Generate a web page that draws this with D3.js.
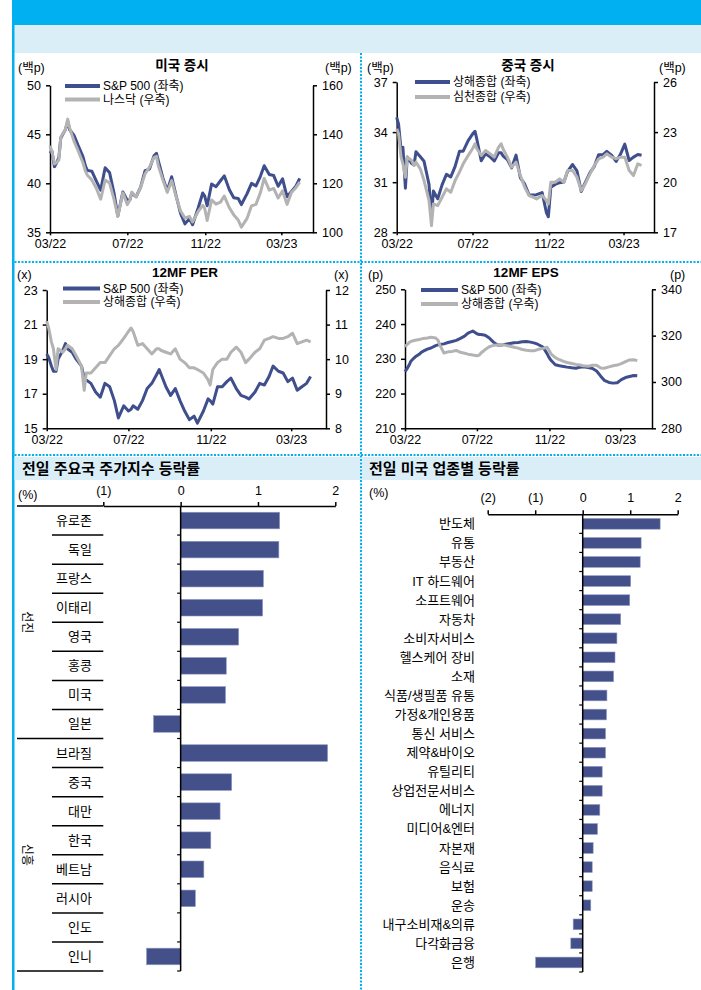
<!DOCTYPE html>
<html lang="ko">
<head>
<meta charset="utf-8">
<title>증시 일일 차트</title>
<script src="https://d3js.org/d3.v7.min.js"></script>
<style>
  body { margin: 0; background: #fff; }
  svg { display: block; font-family: "Liberation Sans", "Noto Sans CJK KR", sans-serif; }
  .axis path, .axis line { stroke: #000; stroke-width: 1.5; }
  .axis text { fill: #000; font-size: 12.5px; font-family: "Liberation Sans", "Noto Sans CJK KR", sans-serif; }
</style>
</head>
<body>
<div id="chart"></div>
<script>
// ---- line chart data (weekly points) ----
var dates = ["2022-03-01","2022-03-04","2022-03-08","2022-03-11","2022-03-15","2022-03-18","2022-03-25","2022-03-29","2022-04-01","2022-04-08",
  "2022-04-14","2022-04-22","2022-04-26","2022-04-29","2022-05-06","2022-05-13","2022-05-20","2022-05-27","2022-06-03","2022-06-10",
  "2022-06-16","2022-06-24","2022-07-01","2022-07-05","2022-07-08","2022-07-15","2022-07-22","2022-07-29","2022-08-05","2022-08-12",
  "2022-08-16","2022-08-19","2022-08-26","2022-09-02","2022-09-09","2022-09-16","2022-09-23","2022-09-30","2022-10-07","2022-10-12",
  "2022-10-21","2022-10-28","2022-10-31","2022-11-04","2022-11-11","2022-11-18","2022-11-25","2022-12-01","2022-12-09","2022-12-16",
  "2022-12-23","2022-12-28","2023-01-06","2023-01-13","2023-01-20","2023-01-27","2023-02-02","2023-02-10","2023-02-17","2023-02-24",
  "2023-03-03","2023-03-10","2023-03-17","2023-03-24","2023-03-30"];
var xTicks = ["2022-03-01","2022-07-01","2022-11-01","2023-03-01"];

// 미국 증시 (백p)
var spx = [43.06,43.29,41.70,42.04,42.62,44.63,45.43,46.31,45.46,44.88,
  43.92,42.72,41.75,41.32,41.23,40.24,39.30,41.58,41.09,39.01,
  36.67,39.12,38.25,38.31,38.99,38.63,39.62,41.30,41.45,42.80,
  43.05,42.28,40.58,39.24,40.67,38.73,36.93,35.86,36.40,35.77,
  37.53,39.01,38.72,37.71,39.93,39.65,40.26,40.76,39.34,38.52,
  38.45,37.83,38.95,39.99,39.73,40.71,41.79,40.90,40.79,39.70,
  40.45,38.62,39.17,39.71,40.50];
var nasdaq = [135.3,133.1,127.9,128.4,129.5,138.9,141.7,146.2,142.6,137.1,
  133.5,128.4,124.9,123.3,121.4,118.0,113.5,121.3,120.1,113.4,
  106.5,116.1,111.3,113.2,116.4,114.5,118.3,123.9,126.6,130.5,
  131.0,127.1,121.4,116.3,121.1,114.5,108.7,105.8,106.5,104.2,
  108.6,111.0,109.9,104.8,113.2,111.5,112.3,114.8,110.0,107.1,
  105.0,102.1,105.7,110.8,111.4,116.2,122.0,117.2,117.9,114.0,
  116.9,111.4,116.3,118.2,120.5];

// 중국 증시 (백p)
var shanghai = [34.88,34.47,32.93,33.09,30.64,32.51,32.12,32.04,32.82,32.52,
  32.25,30.87,28.86,30.47,30.01,30.84,31.47,31.31,31.95,32.85,
  32.86,33.49,33.88,34.05,33.56,32.28,32.70,32.53,32.27,32.77,
  32.77,32.58,32.36,31.86,32.62,31.26,30.88,30.24,30.24,30.25,
  30.38,29.16,28.93,30.70,30.87,30.97,31.01,31.65,32.06,31.68,
  30.45,30.87,31.57,31.95,32.65,32.65,32.85,32.60,32.24,32.67,
  33.28,32.30,32.50,32.66,32.61];
var shenzhen = [23.2,22.9,21.5,21.1,20.3,21.5,21.3,21.0,21.2,20.8,
  20.1,18.9,17.4,18.7,18.6,19.1,19.6,19.4,20.1,20.6,
  21.1,21.6,22.0,22.3,22.0,21.6,21.9,21.7,21.5,22.1,
  22.3,22.0,21.5,20.9,21.2,20.4,19.7,19.2,19.1,19.0,
  19.2,18.9,18.7,20.0,20.0,20.2,20.0,20.7,20.7,20.3,
  19.5,19.8,20.5,21.0,21.4,21.5,21.7,21.5,21.4,21.5,
  21.5,20.7,20.4,21.1,21.0];

// 12MF PER (x)
var perSpx = [19.3,19.1,18.6,18.3,18.3,19.0,19.5,19.9,19.6,19.4,
  19.0,18.6,17.9,17.8,17.6,17.1,16.8,17.6,17.4,16.6,
  15.6,16.3,16.0,16.1,16.3,16.1,16.6,17.3,17.6,18.1,
  18.4,18.1,17.4,16.9,17.3,16.6,16.0,15.5,15.7,15.3,
  16.0,16.7,16.6,16.4,17.4,17.4,17.7,17.9,17.3,16.9,
  16.8,16.7,17.1,17.6,17.5,18.0,18.6,18.3,18.2,17.7,
  17.9,17.2,17.4,17.6,18.0];
var perSh = [11.1,10.9,10.5,10.3,9.7,10.3,10.2,10.3,10.4,10.3,
  10.1,9.8,9.1,9.6,9.6,9.75,9.9,9.9,10.1,10.3,
  10.4,10.6,10.8,10.9,10.8,10.4,10.45,10.3,10.15,10.3,
  10.3,10.25,10.2,10.15,10.3,10.0,9.9,9.75,9.75,9.7,
  9.6,9.4,9.25,9.7,9.9,10.0,10.0,10.2,10.35,10.2,
  9.9,10.0,10.2,10.3,10.55,10.6,10.65,10.6,10.6,10.65,
  10.75,10.45,10.5,10.55,10.5];

// 12MF EPS (p)
var epsSpx = [226.3,227.0,228.2,229.3,230.0,230.5,231.3,231.9,232.2,232.8,
  233.1,233.8,234.0,234.1,234.3,234.7,235.0,235.3,235.9,236.5,
  237.4,238.0,237.2,237.0,237.0,236.8,236.0,234.8,234.0,234.0,
  234.1,234.2,234.4,234.6,234.7,234.9,235.0,234.8,234.5,234.2,
  233.4,231.5,230.5,229.5,228.3,228.0,227.8,227.6,227.4,227.3,
  227.6,227.7,227.5,227.2,226.5,225.0,223.8,223.2,223.0,223.1,
  224.0,224.6,224.9,225.2,225.1];
var epsSh = [315.3,316.0,317.0,317.5,317.8,318.0,318.3,318.6,318.8,319.0,
  319.3,319.0,318.0,316.0,312.5,313.0,313.2,313.6,312.8,312.4,
  312.0,311.6,311.3,311.6,312.5,314.0,315.2,315.8,316.0,316.2,
  316.0,315.8,315.4,315.0,314.6,314.0,313.7,313.5,313.5,314.0,
  314.5,315.0,313.8,312.0,310.5,309.6,308.9,308.4,308.0,307.6,
  307.3,307.0,306.8,307.2,307.2,306.0,305.9,306.5,307.0,307.3,
  307.9,308.8,309.5,309.6,309.2];

// ---- bar chart data ----
var countryCats = ["유로존","독일","프랑스","이태리","영국","홍콩","미국","일본",
  "브라질","중국","대만","한국","베트남","러시아","인도","인니"];
var countryVals = [1.28,1.27,1.07,1.06,0.75,0.59,0.58,-0.35,
  1.90,0.66,0.51,0.39,0.30,0.19,0.00,-0.44];
var countryGroups = ["선진","신흥"];

var sectorCats = ["반도체","유통","부동산","IT 하드웨어","소프트웨어","자동차","소비자서비스","헬스케어 장비",
  "소재","식품/생필품 유통","가정&개인용품","통신 서비스","제약&바이오","유틸리티","상업전문서비스","에너지",
  "미디어&엔터","자본재","음식료","보험","운송","내구소비재&의류","다각화금융","은행"];
var sectorVals = [1.63,1.23,1.21,1.01,0.99,0.80,0.72,0.68,
  0.65,0.51,0.50,0.48,0.48,0.41,0.41,0.36,
  0.31,0.22,0.20,0.20,0.17,-0.20,-0.25,-0.99];

var BLUE = "#3F4E8C", GRAY = "#B3B3B3", CYAN = "#00B0F0", BAND = "#DAEEF8", BAR = "#43508A";
var parse = d3.timeParse("%Y-%m-%d");
var dt = dates.map(parse);

var svg = d3.select("#chart").append("svg").attr("width", 701).attr("height", 990);

// ---- page frame ----
svg.append("rect").attr("x", 12).attr("y", 0).attr("width", 689).attr("height", 25).attr("fill", CYAN);
svg.append("rect").attr("x", 14).attr("y", 25).attr("width", 687).attr("height", 28).attr("fill", BAND);
svg.append("rect").attr("x", 12).attr("y", 0).attr("width", 2.5).attr("height", 990).attr("fill", CYAN);

function dotted(x1, y1, x2, y2) {
  svg.append("line").attr("x1", x1).attr("y1", y1).attr("x2", x2).attr("y2", y2)
    .attr("stroke", CYAN).attr("stroke-width", 2).attr("stroke-dasharray", "2,1.5");
}
dotted(361, 53, 361, 990);
dotted(14.5, 262, 701, 262);
dotted(14.5, 455, 701, 455);

function txt(x, y, s, size, opts) {
  opts = opts || {};
  return svg.append("text").attr("x", x).attr("y", y).text(s)
    .attr("font-size", size + "px")
    .attr("font-weight", opts.bold ? "bold" : null)
    .attr("text-anchor", opts.anchor || "start")
    .attr("dominant-baseline", "central")
    .attr("fill", "#000");
}

// ---- dual axis line charts ----
function dualChart(c) {
  var g = svg.append("g");
  var x = d3.scaleTime().domain([parse("2022-03-01"), parse(c.end)]).range([c.x0, c.x1]);
  var yL = d3.scaleLinear().domain(c.domL).range([c.y1, c.y0]);
  var yR = d3.scaleLinear().domain(c.domR).range([c.y1, c.y0]);
  var num = d3.format("~g");

  g.append("g").attr("class", "axis").attr("transform", "translate(" + c.x0 + ",0)")
    .call(d3.axisLeft(yL).tickValues(c.ticksL).tickFormat(num).tickSize(4).tickPadding(5).tickSizeOuter(0));
  g.append("g").attr("class", "axis").attr("transform", "translate(" + c.x1 + ",0)")
    .call(d3.axisRight(yR).tickValues(c.ticksR).tickFormat(num).tickSize(4).tickPadding(5).tickSizeOuter(0));
  g.append("g").attr("class", "axis").attr("transform", "translate(0," + c.y1 + ")")
    .call(d3.axisBottom(x).tickValues(xTicks.map(parse)).tickFormat(d3.timeFormat("%m/%y"))
      .tickSize(3).tickPadding(4).tickSizeOuter(0));

  var lineL = d3.line().x(function(d, i) { return x(dt[i]); }).y(function(d) { return yL(d); });
  var lineR = d3.line().x(function(d, i) { return x(dt[i]); }).y(function(d) { return yR(d); });
  g.append("path").attr("d", lineL(c.s1)).attr("fill", "none").attr("stroke", BLUE)
    .attr("stroke-width", 3).attr("stroke-linejoin", "round");
  g.append("path").attr("d", lineR(c.s2)).attr("fill", "none").attr("stroke", GRAY)
    .attr("stroke-width", 3).attr("stroke-linejoin", "round");

  // legend
  [[BLUE, c.leg[0], c.legY[0]], [GRAY, c.leg[1], c.legY[1]]].forEach(function(l) {
    g.append("line").attr("x1", c.legX[0]).attr("x2", c.legX[1]).attr("y1", l[2]).attr("y2", l[2])
      .attr("stroke", l[0]).attr("stroke-width", 4);
    txt(c.legX[1] + 3, l[2], l[1], 12);
  });

  txt(c.titleX, c.titleY, c.title, 13.5, {bold: true, anchor: "middle"});
  txt(c.unitLX, c.titleY + 3, c.unit, 12.5);
  txt(c.unitRX, c.titleY + 3, c.unit, 12.5);
}

dualChart({x0: 50, x1: 313, y0: 85.3, y1: 232.3, end: "2023-04-20",
  domL: [35, 50], ticksL: [35, 40, 45, 50], domR: [100, 160], ticksR: [100, 120, 140, 160],
  s1: spx, s2: nasdaq, leg: ["S&P 500 (좌축)", "나스닥 (우축)"], legX: [65, 100], legY: [86, 99.5],
  title: "미국 증시", titleX: 182, titleY: 65, unit: "(백p)", unitLX: 18, unitRX: 325});

dualChart({x0: 396.7, x1: 654, y0: 82, y1: 232.3, end: "2023-04-19",
  domL: [28, 37], ticksL: [28, 31, 34, 37], domR: [17, 26], ticksR: [17, 20, 23, 26],
  s1: shanghai, s2: shenzhen, leg: ["상해종합 (좌축)", "심천종합 (우축)"], legX: [415, 450], legY: [82, 97],
  title: "중국 증시", titleX: 528, titleY: 65, unit: "(백p)", unitLX: 367, unitRX: 659});

dualChart({x0: 46.7, x1: 326, y0: 290, y1: 428.3, end: "2023-04-22",
  domL: [15, 23], ticksL: [15, 17, 19, 21, 23], domR: [8, 12], ticksR: [8, 9, 10, 11, 12],
  s1: perSpx, s2: perSh, leg: ["S&P 500 (좌축)", "상해종합 (우축)"], legX: [63, 100], legY: [288.5, 302],
  title: "12MF PER", titleX: 185, titleY: 272, unit: "(x)", unitLX: 17, unitRX: 334});

dualChart({x0: 405, x1: 652, y0: 289.3, y1: 428.3, end: "2023-04-24",
  domL: [210, 250], ticksL: [210, 220, 230, 240, 250], domR: [280, 340], ticksR: [280, 300, 320, 340],
  s1: epsSpx, s2: epsSh, leg: ["S&P 500 (좌축)", "상해종합 (우축)"], legX: [421, 458], legY: [290, 304],
  title: "12MF EPS", titleX: 526, titleY: 272, unit: "(p)", unitLX: 368, unitRX: 670});

// ---- bar charts ----
function pctFmt(d) { return d < 0 ? "(" + (-d) + ")" : String(d); }

svg.append("rect").attr("x", 14.5).attr("y", 457).attr("width", 345.5).attr("height", 23).attr("fill", BAND);
svg.append("rect").attr("x", 362).attr("y", 457).attr("width", 339).attr("height", 23).attr("fill", BAND);
txt(22, 468.5, "전일 주요국 주가지수 등락률", 15, {bold: true});
txt(369, 468.5, "전일 미국 업종별 등락률", 15, {bold: true});

function barChart(c) {
  var g = svg.append("g");
  var x = d3.scaleLinear().domain(c.dom).range(c.xr);
  var y = d3.scaleBand().domain(c.cats).range([c.top, c.bottom]).paddingInner(c.pad).paddingOuter(c.pad / 2);
  var step = y.step();

  g.append("g").attr("class", "axis").attr("transform", "translate(0," + c.top + ")")
    .call(d3.axisTop(x).tickValues(c.ticks).tickFormat(pctFmt).tickSize(4).tickPadding(c.tp).tickSizeOuter(0));

  g.selectAll("rect.bar").data(c.vals).enter().append("rect").attr("class", "bar")
    .attr("x", function(d) { return x(Math.min(0, d)); })
    .attr("y", function(d, i) { return y(c.cats[i]); })
    .attr("width", function(d) { return Math.abs(x(d) - x(0)); })
    .attr("height", y.bandwidth())
    .attr("fill", BAR).attr("stroke", "#8C97C0").attr("stroke-width", 0.6);

  // zero line with category ticks
  g.append("line").attr("x1", x(0)).attr("x2", x(0)).attr("y1", c.top).attr("y2", c.bottom)
    .attr("stroke", "#000").attr("stroke-width", 1.5);
  d3.range(1, c.cats.length + 1).forEach(function(i) {
    g.append("line").attr("x1", x(0) - 3.5).attr("x2", x(0)).attr("y1", c.top + i * step).attr("y2", c.top + i * step)
      .attr("stroke", "#000").attr("stroke-width", 1.2);
  });

  c.cats.forEach(function(s, i) {
    txt(c.labelX, y(s) + y.bandwidth() / 2, s, 13, {anchor: "end"});
  });
  txt(c.pctX, c.pctY, "(%)", 12.5);
  return {x: x, y: y, step: step};
}

var left = barChart({cats: countryCats, vals: countryVals, dom: [-1, 2], xr: [103.3, 335.3], ticks: [-1, 0, 1, 2],
  top: 506, bottom: 971, pad: 0.43, tp: 7, labelX: 92, pctX: 18, pctY: 495});

// category table lines (groups 선진 / 신흥)
svg.append("line").attr("x1", 17).attr("x2", 103.3).attr("y1", 506).attr("y2", 506).attr("stroke", "#000").attr("stroke-width", 1.5);
d3.range(1, countryCats.length + 1).forEach(function(i) {
  var full = (i === 8 || i === countryCats.length);
  svg.append("line").attr("x1", full ? 17 : 52).attr("x2", 103.3)
    .attr("y1", 506 + i * left.step).attr("y2", 506 + i * left.step)
    .attr("stroke", "#000").attr("stroke-width", 1.5);
});
countryGroups.forEach(function(s, k) {
  var cy = 506 + (k * 8 + 4) * left.step;
  svg.append("text").attr("transform", "translate(27," + cy + ") rotate(90)")
    .attr("text-anchor", "middle").attr("dominant-baseline", "central")
    .attr("font-size", "12px").text(s);
});

barChart({cats: sectorCats, vals: sectorVals, dom: [-2, 2], xr: [487.7, 677.7], ticks: [-2, -1, 0, 1, 2],
  top: 514.3, bottom: 972, pad: 0.44, tp: 8, labelX: 475, pctX: 369, pctY: 493});
</script>
</body>
</html>
